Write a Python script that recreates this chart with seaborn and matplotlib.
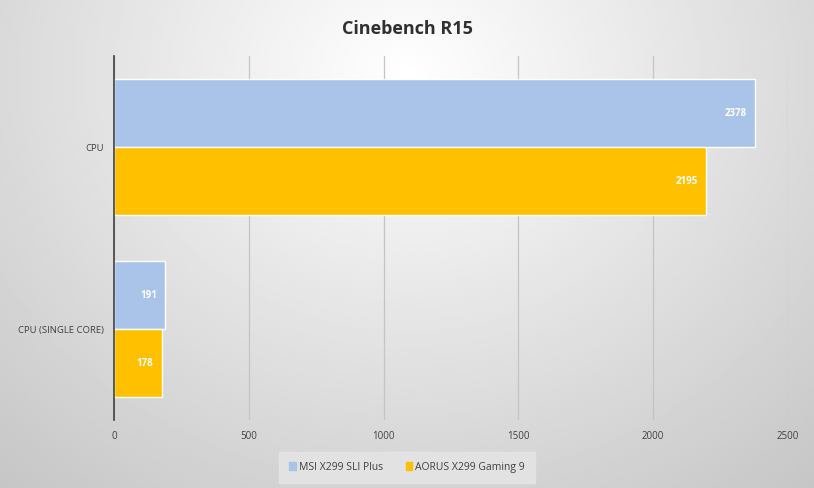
import matplotlib
matplotlib.use("Agg")
import matplotlib.pyplot as plt
import seaborn as sns
import pandas as pd
import numpy as np

# chart values
categories = ["CPU", "CPU (SINGLE CORE)"]
boards = ["MSI X299 SLI Plus", "AORUS X299 Gaming 9"]
msi_scores = [2378, 191]
aorus_scores = [2195, 178]
x_ticks = [0, 500, 1000, 1500, 2000, 2500]

colors = {"MSI X299 SLI Plus": "#a9c4e8", "AORUS X299 Gaming 9": "#ffc000"}

df = pd.DataFrame({
    "category": categories * 2,
    "board": [boards[0]] * len(categories) + [boards[1]] * len(categories),
    "score": msi_scores + aorus_scores,
})

sns.set_theme(style="white")
plt.rcParams["font.family"] = ["Open Sans", "DejaVu Sans"]

fig = plt.figure(figsize=(8.14, 4.88), dpi=100)

# soft grey background, lighter toward the top centre
bg = fig.add_axes([0, 0, 1, 1], zorder=-10)
yy, xx = np.mgrid[0:1:200j, 0:1:300j]
dist = np.sqrt(((xx - 0.5) / 0.75) ** 2 + ((yy - 0.15) / 1.1) ** 2)
shade = 1.0 - 0.22 * np.clip(dist, 0, 1.2)
bg.imshow(shade, cmap="gray", vmin=0, vmax=1, aspect="auto",
          extent=[0, 1, 0, 1], origin="upper")
bg.axis("off")

ax = fig.add_axes([0.14, 0.139, 0.828, 0.746])
ax.patch.set_alpha(0)

sns.barplot(data=df, y="category", x="score", hue="board", order=categories,
            hue_order=boards, palette=colors, orient="h", width=0.75,
            saturation=1, ax=ax, legend=False)

# value labels sit inside the bar end, right aligned
for container in ax.containers:
    texts = ax.bar_label(container, labels=[f"{int(v)}" for v in container.datavalues],
                         padding=-6, color="white", fontsize=7, fontweight="bold")
    for t in texts:
        t.set_ha("right")

ax.set_xlim(0, 2500)
ax.set_ylim(1.5, -0.5)
ax.set_xticks(x_ticks)
ax.set_xticklabels([str(t) for t in x_ticks], fontsize=7, color="#404040")
ax.tick_params(axis="y", labelsize=6.8, labelcolor="#404040", length=0, pad=7)
ax.tick_params(axis="x", length=0, pad=8)
ax.xaxis.grid(True, color="#c4c4c4", linewidth=0.9)
ax.set_axisbelow(True)
ax.set_xlabel("")
ax.set_ylabel("")
for side in ["top", "right", "bottom"]:
    ax.spines[side].set_visible(False)
ax.spines["left"].set_color("#404040")
ax.spines["left"].set_linewidth(1.2)

fig.text(0.5, 0.94, "Cinebench R15", ha="center", va="center",
         fontsize=13, fontweight="bold", color="#303030")

handles = [plt.Rectangle((0, 0), 1, 1, color=colors[b]) for b in boards]
leg = fig.legend(handles, boards, loc="center", bbox_to_anchor=(0.5, 0.042),
                 ncol=2, fontsize=7.5, frameon=True, handlelength=0.6,
                 handleheight=0.8, handletextpad=0.3, columnspacing=2.2,
                 borderpad=0.7, borderaxespad=0)
leg.get_frame().set_facecolor("#e6e6e6")
leg.get_frame().set_edgecolor("#e6e6e6")
leg.get_frame().set_boxstyle("square", pad=0.25)
for t in leg.get_texts():
    t.set_color("#404040")

fig.savefig("out.png", dpi=100)
